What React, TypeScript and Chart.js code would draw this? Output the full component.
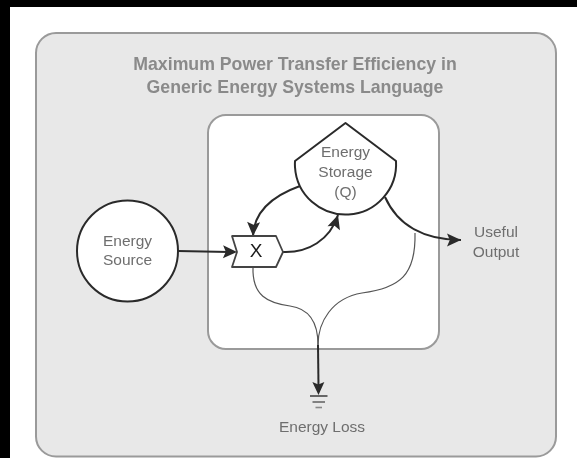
import React, { useEffect, useRef } from "react";
import { Chart, registerables } from "chart.js";

Chart.register(...registerables);

// ---- Diagram content (data-space coordinates: 0..577 x, 0..458 y) ----
const titleLines = ["Maximum Power Transfer Efficiency in", "Generic Energy Systems Language"];
const nodeNames = ["Energy Source", "Interaction X", "Energy Storage (Q)", "Useful Output", "Energy Loss"];
const nodeLabels = [["Energy", "Source"], ["X"], ["Energy", "Storage", "(Q)"], ["Useful", "Output"], ["Energy Loss"]];
const nodeX = [127.5, 256, 345.5, 496, 322];
const nodeY = [251, 252, 173, 243, 428];
// Flow paths: [start, cp1, cp2, end] segments (x,y) pairs
const flowSourceToX = [[178, 251], [237, 252]];
const flowStorageToX = [[300, 186], [272, 196], [254, 212], [253, 236]];
const flowXToStorage = [[283, 252], [308, 253], [330, 240], [338, 215]];
const flowStorageToOutput = [[385, 197], [398, 226], [425, 240], [461, 240]];
const lossFromX = [[253, 267], [252, 296], [268, 303], [290, 306], [312, 309], [318, 326], [318, 345]];
const lossFromStorage = [[415, 233], [416, 275], [400, 288], [362, 293], [332, 298], [318, 322], [318, 345]];
const lossDrop = [[318, 345], [318.5, 395]];

export default function App() {
  const ref = useRef<HTMLCanvasElement | null>(null);

  useEffect(() => {
    document.body.style.margin = "0";
    const canvas = ref.current!;
    const diagramPlugin = {
      id: "diagram",
      beforeDraw(chart: any) {
        const ctx: CanvasRenderingContext2D = chart.ctx;
        const xs = chart.scales.x;
        const ys = chart.scales.y;
        const px = (v: number) => xs.getPixelForValue(v);
        const py = (v: number) => ys.getPixelForValue(v);
        const FONT = "Arial, 'Liberation Sans', Helvetica, sans-serif";

        ctx.save();
        // background
        ctx.fillStyle = "#ffffff";
        ctx.fillRect(0, 0, chart.width, chart.height);
        ctx.fillStyle = "#000000";
        ctx.fillRect(px(0), py(0), px(577) - px(0), py(7) - py(0));
        ctx.fillRect(px(0), py(0), px(10) - px(0), py(458) - py(0));

        const rrect = (x0: number, y0: number, x1: number, y1: number, r: number) => {
          const a = px(x0), b = py(y0), c = px(x1), d = py(y1);
          ctx.beginPath();
          ctx.moveTo(a + r, b);
          ctx.lineTo(c - r, b);
          ctx.arcTo(c, b, c, b + r, r);
          ctx.lineTo(c, d - r);
          ctx.arcTo(c, d, c - r, d, r);
          ctx.lineTo(a + r, d);
          ctx.arcTo(a, d, a, d - r, r);
          ctx.lineTo(a, b + r);
          ctx.arcTo(a, b, a + r, b, r);
          ctx.closePath();
        };

        // outer panel
        rrect(36, 33, 556, 456.5, 20);
        ctx.fillStyle = "#e8e8e8";
        ctx.fill();
        ctx.strokeStyle = "#9a9a9a";
        ctx.lineWidth = 2;
        ctx.stroke();

        // title
        ctx.fillStyle = "#8a8a8a";
        ctx.font = "bold 17.7px " + FONT;
        ctx.textAlign = "center";
        ctx.textBaseline = "middle";
        titleLines.forEach((t, i) => ctx.fillText(t, px(295), py(65 + i * 23)));

        // inner panel
        rrect(208, 115, 439, 349, 18);
        ctx.fillStyle = "#ffffff";
        ctx.fill();
        ctx.strokeStyle = "#9a9a9a";
        ctx.lineWidth = 2;
        ctx.stroke();

        const dark = "#2a2a2a";
        const arrowHead = (tx: number, ty: number, fx: number, fy: number, len = 14, hw = 6.5) => {
          const ang = Math.atan2(py(ty) - py(fy), px(tx) - px(fx));
          const X = px(tx), Y = py(ty);
          ctx.beginPath();
          ctx.moveTo(X, Y);
          ctx.lineTo(X - len * Math.cos(ang) + hw * Math.sin(ang), Y - len * Math.sin(ang) - hw * Math.cos(ang));
          ctx.lineTo(X - len * Math.cos(ang) * 0.8, Y - len * Math.sin(ang) * 0.8);
          ctx.lineTo(X - len * Math.cos(ang) - hw * Math.sin(ang), Y - len * Math.sin(ang) + hw * Math.cos(ang));
          ctx.closePath();
          ctx.fillStyle = dark;
          ctx.fill();
        };
        const bez = (pts: number[][], width: number, color: string) => {
          ctx.beginPath();
          ctx.moveTo(px(pts[0][0]), py(pts[0][1]));
          for (let i = 1; i + 2 < pts.length; i += 3) {
            ctx.bezierCurveTo(px(pts[i][0]), py(pts[i][1]), px(pts[i + 1][0]), py(pts[i + 1][1]), px(pts[i + 2][0]), py(pts[i + 2][1]));
          }
          ctx.strokeStyle = color;
          ctx.lineWidth = width;
          ctx.stroke();
        };
        const line = (pts: number[][], width: number, color: string) => {
          ctx.beginPath();
          ctx.moveTo(px(pts[0][0]), py(pts[0][1]));
          for (let i = 1; i < pts.length; i++) ctx.lineTo(px(pts[i][0]), py(pts[i][1]));
          ctx.strokeStyle = color;
          ctx.lineWidth = width;
          ctx.stroke();
        };

        ctx.lineCap = "butt";
        ctx.lineJoin = "round";

        // loss flows (thin)
        bez(lossFromX, 1.2, "#555555");
        bez(lossFromStorage, 1.2, "#555555");
        line([lossDrop[0], [lossDrop[1][0], lossDrop[1][1] - 8]], 2, dark);
        arrowHead(lossDrop[1][0], lossDrop[1][1], lossDrop[0][0], lossDrop[0][1], 13, 6);
        // ground symbol
        const gy = lossDrop[1][1];
        line([[310, gy + 1], [327.5, gy + 1]], 1.6, "#444444");
        line([[312.5, gy + 7], [325, gy + 7]], 1.6, "#666666");
        line([[315.5, gy + 12.5], [322, gy + 12.5]], 1.6, "#888888");

        // main flows
        line([flowSourceToX[0], [flowSourceToX[1][0] - 8, flowSourceToX[1][1]]], 2, dark);
        arrowHead(flowSourceToX[1][0], flowSourceToX[1][1], flowSourceToX[0][0], flowSourceToX[0][1]);
        bez(flowStorageToX, 2, dark);
        arrowHead(flowStorageToX[3][0], flowStorageToX[3][1], flowStorageToX[2][0], flowStorageToX[2][1]);
        bez(flowXToStorage, 2, dark);
        arrowHead(flowXToStorage[3][0], flowXToStorage[3][1], flowXToStorage[2][0], flowXToStorage[2][1]);
        bez(flowStorageToOutput, 2, dark);
        arrowHead(flowStorageToOutput[3][0], flowStorageToOutput[3][1], flowStorageToOutput[2][0], flowStorageToOutput[2][1]);

        // Energy source circle
        ctx.beginPath();
        ctx.arc(px(nodeX[0]), py(nodeY[0]), px(50.5) - px(0), 0, Math.PI * 2);
        ctx.fillStyle = "#ffffff";
        ctx.fill();
        ctx.strokeStyle = dark;
        ctx.lineWidth = 2;
        ctx.stroke();

        // Storage tank shape
        const sx = nodeX[2];
        const r = 50.6;
        const cy = 164;
        const a0 = Math.atan2(-3, 50.5);
        ctx.beginPath();
        ctx.moveTo(px(sx - 50.5), py(161));
        ctx.lineTo(px(sx), py(123));
        ctx.lineTo(px(sx + 50.5), py(161));
        ctx.arc(px(sx), py(cy), px(r) - px(0), a0, Math.PI - a0, false);
        ctx.closePath();
        ctx.fillStyle = "#ffffff";
        ctx.fill();
        ctx.lineWidth = 2;
        ctx.strokeStyle = dark;
        ctx.stroke();

        // X interaction box
        ctx.beginPath();
        ctx.moveTo(px(232), py(236));
        ctx.lineTo(px(276), py(236));
        ctx.lineTo(px(283), py(252));
        ctx.lineTo(px(276), py(267));
        ctx.lineTo(px(232), py(267));
        ctx.lineTo(px(237), py(252));
        ctx.closePath();
        ctx.fillStyle = "#ffffff";
        ctx.fill();
        ctx.lineWidth = 1.8;
        ctx.strokeStyle = "#444444";
        ctx.stroke();

        // labels
        ctx.textAlign = "center";
        ctx.textBaseline = "middle";
        const spacing = [19, 0, 20, 20, 0];
        nodeLabels.forEach((lines, i) => {
          if (i === 1) {
            ctx.font = "19px " + FONT;
            ctx.fillStyle = "#1a1a1a";
          } else {
            ctx.font = "15.5px " + FONT;
            ctx.fillStyle = "#6e6e6e";
          }
          const n = lines.length;
          lines.forEach((t, j) => {
            const yy = nodeY[i] + (j - (n - 1) / 2) * spacing[i];
            ctx.fillText(t, px(nodeX[i]), py(yy));
          });
        });
        ctx.restore();
      },
    };

    const chart = new Chart(canvas, {
      type: "scatter",
      data: {
        datasets: [
          {
            label: "nodes",
            data: nodeX.map((x, i) => ({ x, y: nodeY[i], name: nodeNames[i] })),
            pointRadius: 0,
            pointHoverRadius: 0,
          },
        ],
      },
      options: {
        animation: false,
        responsive: false,
        maintainAspectRatio: false,
        layout: { padding: 0 },
        plugins: { legend: { display: false }, tooltip: { enabled: false }, title: { display: false } },
        events: [],
        scales: {
          x: { type: "linear", min: 0, max: 577, display: false },
          y: { type: "linear", min: 0, max: 458, reverse: true, display: false },
        },
      },
      plugins: [diagramPlugin],
    });
    return () => chart.destroy();
  }, []);

  return (
    <div style={{ position: "absolute", left: 0, top: 0, width: 577, height: 458 }}>
      <canvas ref={ref} width={577} height={458} style={{ display: "block" }} />
    </div>
  );
}
